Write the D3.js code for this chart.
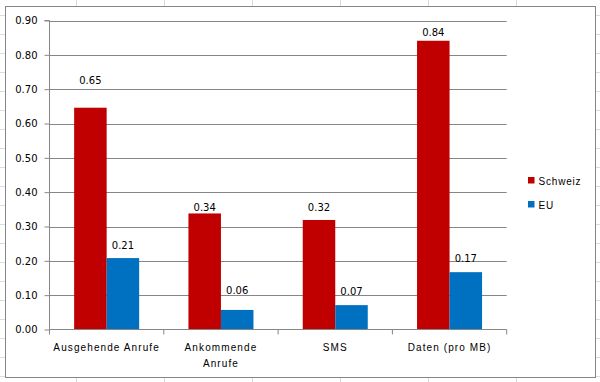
<!DOCTYPE html>
<html>
<head>
<meta charset="utf-8">
<script src="https://cdn.jsdelivr.net/npm/d3@7"></script>
<style>
  html, body { margin: 0; padding: 0; background: #fff; }
  svg { display: block; }
</style>
</head>
<body>
<svg id="chart" width="600" height="382"></svg>
<script>
// ---- data ----
const categories = ["Ausgehende Anrufe", "Ankommende Anrufe", "SMS", "Daten (pro MB)"];
const categoryLines = [["Ausgehende Anrufe"], ["Ankommende", "Anrufe"], ["SMS"], ["Daten (pro MB)"]];
const seriesNames = ["Schweiz", "EU"];
const schweiz = [0.646, 0.338, 0.319, 0.841];
const eu = [0.208, 0.057, 0.071, 0.167];
const yTicks = [0, 0.1, 0.2, 0.3, 0.4, 0.5, 0.6, 0.7, 0.8, 0.9];

// label offsets above bar top (px), as placed in the original
const labelGap = { "Schweiz": [27, 6, 13, 8], "EU": [13, 20, 14, 14] };
const colors = { "Schweiz": "#c00000", "EU": "#0070c0" };

const svg = d3.select("#chart");

// ---- spreadsheet background grid ----
const bg = svg.append("g");
const colX = d3.range(0, 7).map(i => 76.5 + 88 * i);
const rowY = d3.range(0, 20).map(i => 15.5 + 19 * i);
bg.selectAll("line.c").data(colX).join("line")
  .attr("x1", d => d).attr("x2", d => d).attr("y1", 0).attr("y2", 382)
  .attr("stroke", "#dadcdd").attr("stroke-width", 1);
bg.selectAll("line.r").data(rowY).join("line")
  .attr("x1", 0).attr("x2", 600).attr("y1", d => d).attr("y2", d => d)
  .attr("stroke", "#dadcdd").attr("stroke-width", 1);

// chart area
svg.append("rect")
  .attr("x", 5.5).attr("y", 6.5).attr("width", 590).attr("height", 371)
  .attr("fill", "#fff").attr("stroke", "#868686").attr("stroke-width", 1);

// ---- scales ----
const pLeft = 49.5, pRight = 506.7, pTop = 20.5, pBottom = 329.5;
const x = d3.scaleBand().domain(categories).range([pLeft, pRight]).paddingInner(0).paddingOuter(0);
const xs = d3.scaleBand().domain(seriesNames).range([0, x.bandwidth()]).paddingInner(0).paddingOuter(0.758);
const y = d3.scaleLinear().domain([0, 0.9]).range([pBottom, pTop]);

// gridlines
svg.append("g").selectAll("line").data(yTicks.slice(1)).join("line")
  .attr("x1", pLeft).attr("x2", pRight)
  .attr("y1", d => Math.round(y(d)) + 0.5).attr("y2", d => Math.round(y(d)) + 0.5)
  .attr("stroke", "#868686").attr("stroke-width", 1);

// ---- bars ----
const data = categories.map((c, i) => ({ cat: c, i, values: [
  { s: "Schweiz", v: schweiz[i] }, { s: "EU", v: eu[i] }] }));

const groups = svg.append("g").selectAll("g").data(data).join("g")
  .attr("transform", d => `translate(${x(d.cat)},0)`);

groups.selectAll("rect").data(d => d.values.map(v => ({ ...v, i: d.i }))).join("rect")
  .attr("x", d => xs(d.s))
  .attr("width", xs.bandwidth())
  .attr("y", d => y(d.v))
  .attr("height", d => y(0) - y(d.v))
  .attr("fill", d => colors[d.s]);

groups.selectAll("text").data(d => d.values.map(v => ({ ...v, i: d.i }))).join("text")
  .attr("x", d => xs(d.s) + xs.bandwidth() / 2)
  .attr("y", d => y(d.v) - labelGap[d.s][d.i])
  .attr("dy", "0.36em")
  .attr("text-anchor", "middle")
  .attr("font-family", "DejaVu Sans")
  .attr("font-size", 10)
  .attr("fill", "#000")
  .text(d => d3.format(".2f")(d.v));

// ---- axes ----
const yAxis = d3.axisLeft(y).tickValues(yTicks).tickSize(5).tickPadding(7)
  .tickFormat(d3.format(".2f"));
const ya = svg.append("g").attr("transform", `translate(${pLeft},0)`).call(yAxis);
ya.select(".domain").attr("stroke", "#868686").attr("d", `M-5,${y(0.9)}H0V${pBottom}`);
ya.selectAll(".tick line").attr("stroke", "#868686");
ya.selectAll(".tick text").attr("font-family", "DejaVu Sans").attr("font-size", 10).attr("fill", "#000");

// x axis line and tick marks at category boundaries
const xa = svg.append("g");
xa.append("line").attr("x1", pLeft).attr("x2", pRight).attr("y1", pBottom).attr("y2", pBottom)
  .attr("stroke", "#868686");
const bounds = categories.map(c => x(c)).concat([pRight]);
xa.selectAll("line.t").data(bounds).join("line")
  .attr("x1", d => d).attr("x2", d => d).attr("y1", pBottom).attr("y2", pBottom + 5)
  .attr("stroke", "#868686");

// category labels
xa.selectAll("text.cat").data(categoryLines).join("text")
  .attr("class", "cat")
  .attr("text-anchor", "middle")
  .attr("font-family", "Liberation Sans")
  .attr("font-size", 10)
  .attr("letter-spacing", 1.1)
  .attr("fill", "#000")
  .each(function (lines, i) {
    const t = d3.select(this);
    const cx = x(categories[i]) + x.bandwidth() / 2;
    lines.forEach((ln, j) => {
      t.append("tspan").attr("x", cx).attr("y", 351 + j * 15.7).text(ln);
    });
  });

// ---- legend ----
const legend = svg.append("g");
seriesNames.forEach((s, i) => {
  legend.append("rect").attr("x", 528).attr("y", 177 + i * 24).attr("width", 6.5).attr("height", 6.5)
    .attr("fill", colors[s]);
  legend.append("text").attr("x", 538.5).attr("y", 185 + i * 23.5)
    .attr("font-family", "Liberation Sans").attr("font-size", 10).attr("letter-spacing", 0.8)
    .attr("fill", "#000").text(s);
});
</script>
</body>
</html>
